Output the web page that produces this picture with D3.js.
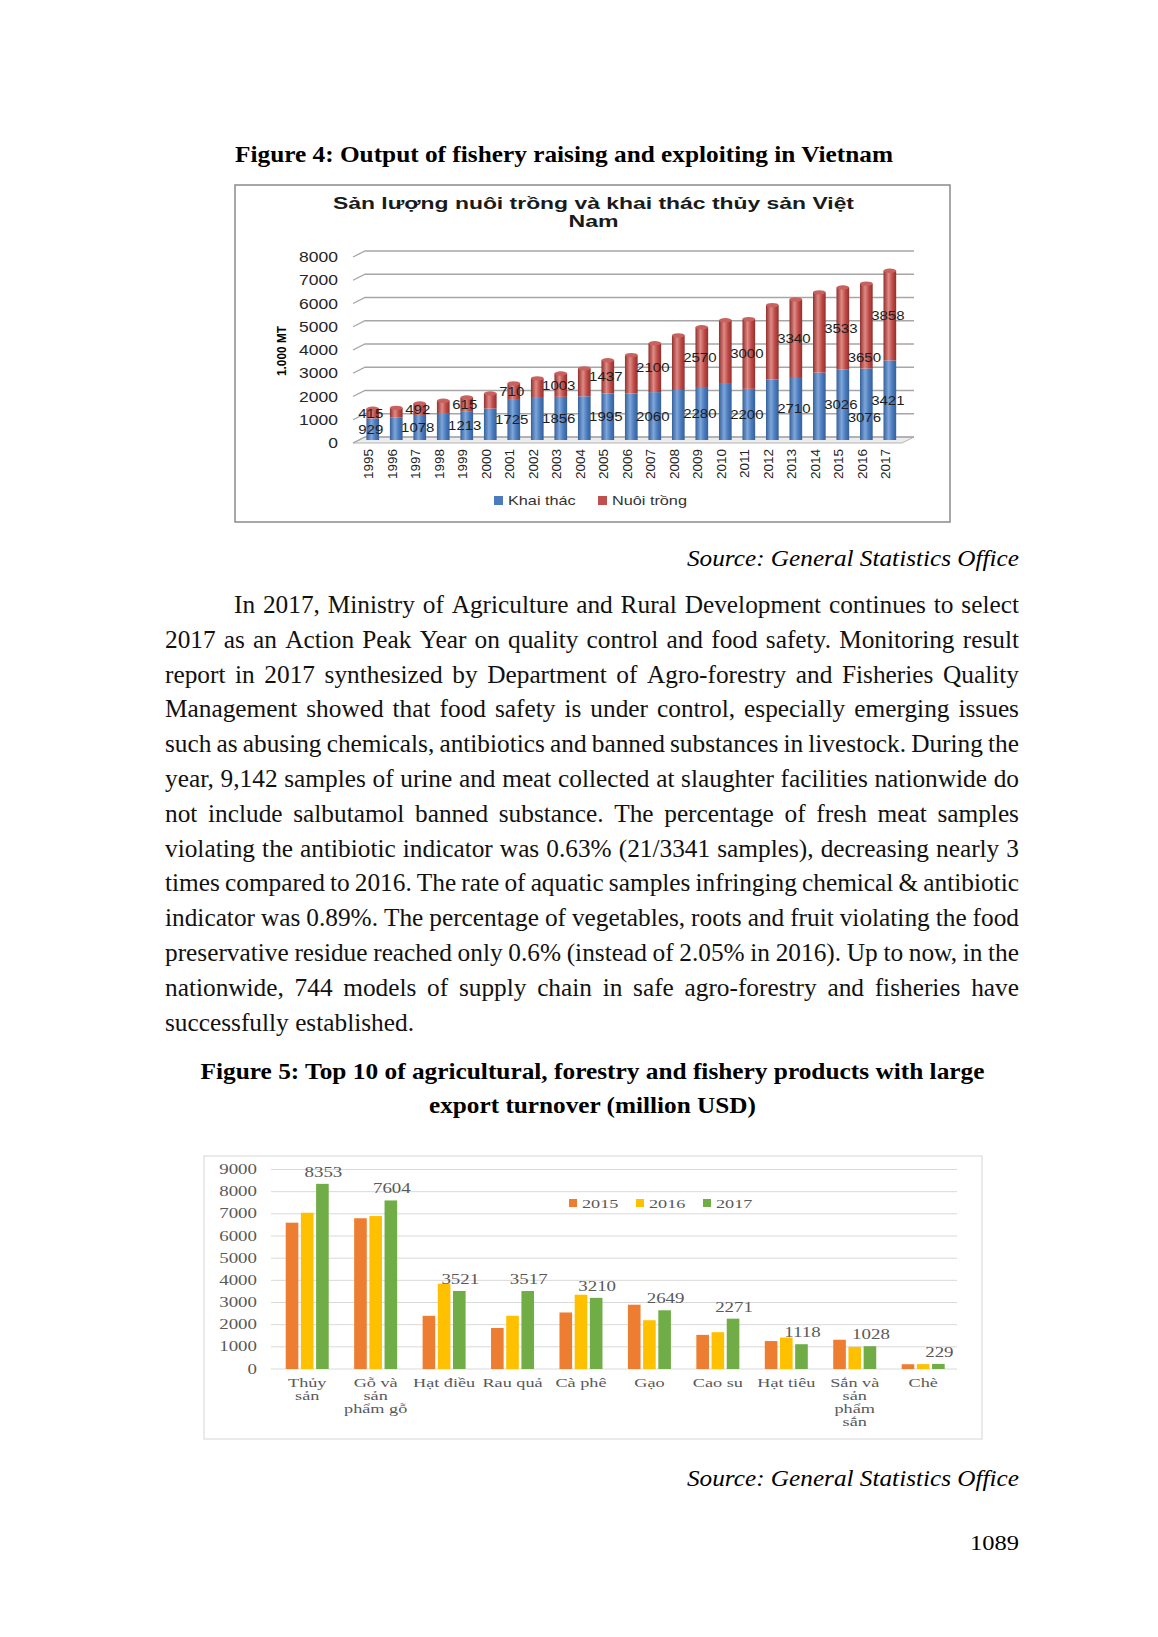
<!DOCTYPE html>
<html><head><meta charset="utf-8">
<script src="https://cdn.jsdelivr.net/npm/d3@7"></script>
<style>body{margin:0;background:#fff}svg{display:block}</style>
</head><body>
<svg id="page" width="1158" height="1637"></svg>
<script>
// ---------- Figure 4 data ----------
const years = ["1995","1996","1997","1998","1999","2000","2001","2002","2003","2004","2005","2006","2007","2008","2009","2010","2011","2012","2013","2014","2015","2016","2017"];
const khaiThac  = [929, 960, 1078, 1130, 1213, 1350, 1725, 1810, 1856, 1880, 1995, 2000, 2060, 2150, 2280, 2450, 2200, 2600, 2710, 2900, 3026, 3076, 3421];
const nuoiTrong = [415, 420, 492, 560, 615, 650, 710, 840, 1003, 1200, 1437, 1650, 2100, 2350, 2570, 2700, 3000, 3200, 3340, 3450, 3533, 3650, 3858];
const labelledYears = ["1995","1997","1999","2001","2003","2005","2007","2009","2011","2013","2015","2016","2017"];
const fig4Ticks = [0,1000,2000,3000,4000,5000,6000,7000,8000];
const fig4Series = ["Khai thác","Nuôi trồng"];

// ---------- Figure 5 data ----------
const products = ["Thủy sản","Gỗ và sản phẩm gỗ","Hạt điều","Rau quả","Cà phê","Gạo","Cao su","Hạt tiêu","Sắn và sản phẩm sắn","Chè"];
const productLabelLines = [["Thủy","sản"],["Gỗ và","sản","phẩm gỗ"],["Hạt điều"],["Rau quả"],["Cà phê"],["Gạo"],["Cao su"],["Hạt tiêu"],["Sắn và","sản","phẩm","sắn"],["Chè"]];
const export2015 = [6600, 6800, 2400, 1850, 2550, 2900, 1540, 1260, 1320, 215];
const export2016 = [7050, 6900, 3850, 2400, 3350, 2200, 1660, 1420, 1000, 220];
const export2017 = [8353, 7604, 3521, 3517, 3210, 2649, 2271, 1118, 1028, 229];
const fig5Series = ["2015","2016","2017"];
const fig5Ticks = [0,1000,2000,3000,4000,5000,6000,7000,8000,9000];

// ---------- Text ----------
const bodyLines = [
"In 2017, Ministry of Agriculture and Rural Development continues to select",
"2017 as an Action Peak Year on quality control and food safety. Monitoring result",
"report in 2017 synthesized by Department of Agro-forestry and Fisheries Quality",
"Management showed that food safety is under control, especially emerging issues",
"such as abusing chemicals, antibiotics and banned substances in livestock. During the",
"year, 9,142 samples of urine and meat collected at slaughter facilities nationwide do",
"not include salbutamol banned substance. The percentage of fresh meat samples",
"violating the antibiotic indicator was 0.63% (21/3341 samples), decreasing nearly 3",
"times compared to 2016. The rate of aquatic samples infringing chemical & antibiotic",
"indicator was 0.89%. The percentage of vegetables, roots and fruit violating the food",
"preservative residue reached only 0.6% (instead of 2.05% in 2016). Up to now, in the",
"nationwide, 744 models of supply chain in safe agro-forestry and fisheries have",
"successfully established."
];

const svg = d3.select("#page");
svg.append("rect").attr("width",1158).attr("height",1637).attr("fill","#fff");
const SERIF = "'Liberation Serif','Times New Roman',serif";
const SANS = "'Liberation Sans',Arial,sans-serif";

function fitText(x, y, str, w, opts) {
  const t = svg.append("text").attr("x", x).attr("y", y).text(str)
    .attr("font-family", opts.family || SERIF).attr("font-size", opts.size)
    .attr("font-weight", opts.weight || "normal").attr("font-style", opts.style || "normal")
    .attr("fill", opts.fill || "#000").attr("text-anchor", opts.anchor || "start");
  if (w) t.attr("textLength", w).attr("lengthAdjust", "spacingAndGlyphs");
  return t;
}

// Titles and sources
fitText(235, 162, "Figure 4: Output of fishery raising and exploiting in Vietnam", 658, {size: 23, weight: "bold"});
fitText(687, 566, "Source: General Statistics Office", 332, {size: 23, style: "italic"});
fitText(200.5, 1079, "Figure 5: Top 10 of agricultural, forestry and fishery products with large", 784, {size: 23, weight: "bold"});
fitText(429, 1113, "export turnover (million USD)", 327, {size: 23, weight: "bold"});
fitText(687, 1486, "Source: General Statistics Office", 332, {size: 23, style: "italic"});
fitText(970, 1550, "1089", 49, {size: 22});

// Body paragraph (justified)
(function body(){
  const FS = 25, X0 = 165, X1 = 1019, B0 = 613, STEP = 34.8;
  const g = svg.append("g").attr("font-family", SERIF).attr("font-size", FS).attr("fill","#111");
  const probe = g.append("text").text(bodyLines[bodyLines.length-1]);
  const nat = probe.node().getComputedTextLength();
  probe.remove();
  let k = 249 / nat; k = Math.max(0.7, Math.min(1.15, k));
  const sp = g.append("text").text("a a"); const sw2 = sp.node().getComputedTextLength();
  sp.text("aa"); const spaceW = (sw2 - sp.node().getComputedTextLength()) * k; sp.remove();
  bodyLines.forEach((line, i) => {
    const y = B0 + i * STEP;
    const start = i === 0 ? 234 : X0;
    const last = i === bodyLines.length - 1;
    const words = line.split(" ");
    const items = words.map(w => {
      const t = g.append("text").attr("y", y).text(w);
      return {t, w: t.node().getComputedTextLength() * k};
    });
    const total = d3.sum(items, d => d.w);
    const gap = last ? spaceW : (X1 - start - total) / (items.length - 1);
    let x = start;
    items.forEach(d => { d.t.attr("transform", `translate(${x},0) scale(${k},1)`); x += d.w + gap; });
  });
})();

// ---------- Figure 4 chart ----------
(function fig4(){
  const g = svg.append("g");
  g.append("rect").attr("x",235).attr("y",185).attr("width",715).attr("height",337)
    .attr("fill","#fff").attr("stroke","#8a8a8a").attr("stroke-width",1.5);
  const defs = svg.append("defs");
  function grad(id, edge, mid, light) {
    const lg = defs.append("linearGradient").attr("id", id).attr("x1","0").attr("x2","1").attr("y1","0").attr("y2","0");
    lg.append("stop").attr("offset","0").attr("stop-color", edge);
    lg.append("stop").attr("offset","0.4").attr("stop-color", light);
    lg.append("stop").attr("offset","0.7").attr("stop-color", mid);
    lg.append("stop").attr("offset","1").attr("stop-color", edge);
  }
  grad("gBlue", "#35609a", "#4a7bbd", "#7ea6da");
  grad("gRed", "#922f2c", "#bf4b47", "#de8a86");

  const SX = 1.25;
  function t1(px, py, str, anchor, size, fill) {
    return g.append("text").attr("transform", `translate(${px},${py}) scale(${SX},1)`)
      .attr("text-anchor", anchor).attr("font-family", SANS).attr("font-size", size)
      .attr("fill", fill || "#262626").text(str);
  }
  // label nudges (layout only, px) for the crowded 2016 bar: [blue, red]
  const labelNudge = {"2016": [13, 31]};

  fitText(593.5, 209, "Sản lượng nuôi trồng và khai thác thủy sản Việt", 521, {family: SANS, size: 17, weight: "bold", anchor: "middle", fill:"#1a1a1a"});
  fitText(593.5, 227, "Nam", 50, {family: SANS, size: 17, weight: "bold", anchor: "middle", fill:"#1a1a1a"});

  const y = d3.scaleLinear().domain([0, 8000]).range([443, 257]);
  const x = d3.scaleBand().domain(years).range([355.6, 907]).padding(0.46);
  const DX = 12, DY = 6;

  // floor
  g.append("path").attr("d", `M353,${y(0)} L902,${y(0)} L914,${y(0)-DY} L${353+DX},${y(0)-DY} Z`)
    .attr("fill","#ececec").attr("stroke","#b5b5b5");
  // gridlines + tick labels
  fig4Ticks.forEach(v => {
    g.append("path").attr("d", `M353,${y(v)} L${353+DX},${y(v)-DY} L914,${y(v)-DY}`)
      .attr("fill","none").attr("stroke","#a6a6a6").attr("stroke-width",1.3);
    t1(338, y(v)+5, v, "end", 14, "#262626");
  });
  // y title
  g.append("text").attr("transform","translate(286,351) rotate(-90)").attr("text-anchor","middle")
    .attr("font-family",SANS).attr("font-size",12.5).attr("font-weight","bold")
    .attr("textLength",50).attr("lengthAdjust","spacingAndGlyphs").text("1.000 MT");

  const off = -3;
  const bw = x.bandwidth();
  years.forEach((yr, i) => {
    const b = khaiThac[i], r = nuoiTrong[i];
    const cx = x(yr) + bw/2;
    g.append("rect").attr("x", x(yr)).attr("y", y(b)+off).attr("width", bw).attr("height", y(0)-y(b))
      .attr("fill","url(#gBlue)");
    g.append("rect").attr("x", x(yr)).attr("y", y(b+r)+off).attr("width", bw).attr("height", y(b)-y(b+r))
      .attr("fill","url(#gRed)");
    g.append("ellipse").attr("cx", cx).attr("cy", y(b+r)+off).attr("rx", bw/2).attr("ry", 2.2).attr("fill","#c9625e");
    g.append("text").attr("transform", `translate(${cx+0.5},449) rotate(-90)`).attr("text-anchor","end")
      .attr("font-family",SANS).attr("font-size",13.5).attr("fill","#222").text(yr);
    if (labelledYears.includes(yr)) {
      const nd = labelNudge[yr] || [0, 0];
      t1(cx-2, y(b/2)+off+4.5+nd[0], b, "middle", 12, "#1e1e1e");
      t1(cx-2, y(b + r/2)+off+4.5+nd[1], r, "middle", 12, "#1e1e1e");
    }
  });
  // legend
  const lg = [{name: fig4Series[0], c:"#4a7bbd", x:494}, {name: fig4Series[1], c:"#c0504d", x:598}];
  lg.forEach(d => {
    g.append("rect").attr("x", d.x).attr("y", 496).attr("width", 9).attr("height", 9).attr("fill", d.c);
    t1(d.x+14, 505, d.name, "start", 13, "#333");
  });
})();

// ---------- Figure 5 chart ----------
(function fig5(){
  const g = svg.append("g");
  g.append("rect").attr("x",204).attr("y",1156).attr("width",778).attr("height",283)
    .attr("fill","#fff").attr("stroke","#dcdcdc").attr("stroke-width",1.2);
  const y = d3.scaleLinear().domain([0, 9000]).range([1369, 1169.5]);
  const x = d3.scaleBand().domain(products).range([273, 957.4]);
  const inner = d3.scaleBand().domain(fig5Series).range([-21.5, 21.5]).paddingInner(0.17);
  const colors = {"2015":"#ED7D31","2016":"#FFC000","2017":"#70AD47"};
  const series = {"2015": export2015, "2016": export2016, "2017": export2017};
  const SX = 1.35, GREY = "#595959";
  function stext(px, py, str, anchor, size) {
    return g.append("text").attr("transform", `translate(${px},${py}) scale(${SX},1)`)
      .attr("text-anchor", anchor).attr("font-family", SERIF).attr("font-size", size || 14)
      .attr("fill", GREY).text(str);
  }
  fig5Ticks.forEach(v => {
    g.append("line").attr("x1",271).attr("x2",957).attr("y1",y(v)).attr("y2",y(v))
      .attr("stroke", "#d9d9d9").attr("stroke-width",1);
    stext(257, y(v)+4.5, v, "end");
  });
  products.forEach((p, i) => {
    const c = x(p) + x.bandwidth()/2;
    fig5Series.forEach(s => {
      const v = series[s][i];
      g.append("rect").attr("x", c + inner(s)).attr("y", y(v)).attr("width", inner.bandwidth())
        .attr("height", y(0) - y(v)).attr("fill", colors[s]);
    });
    const gv = export2017[i];
    stext(c + inner("2017") + inner.bandwidth()/2 + 1, y(gv) - 7, gv, "middle", 14);
    productLabelLines[i].forEach((ln, j) => {
      stext(c, 1387 + j*13, ln, "middle", 13.5);
    });
  });
  // legend
  const lx = [569, 636, 703];
  fig5Series.forEach((s, i) => {
    g.append("rect").attr("x", lx[i]).attr("y", 1199).attr("width", 8).attr("height", 8).attr("fill", colors[s]);
    stext(lx[i] + 13, 1208, s, "start", 13.5);
  });
})();
</script>
</body></html>
